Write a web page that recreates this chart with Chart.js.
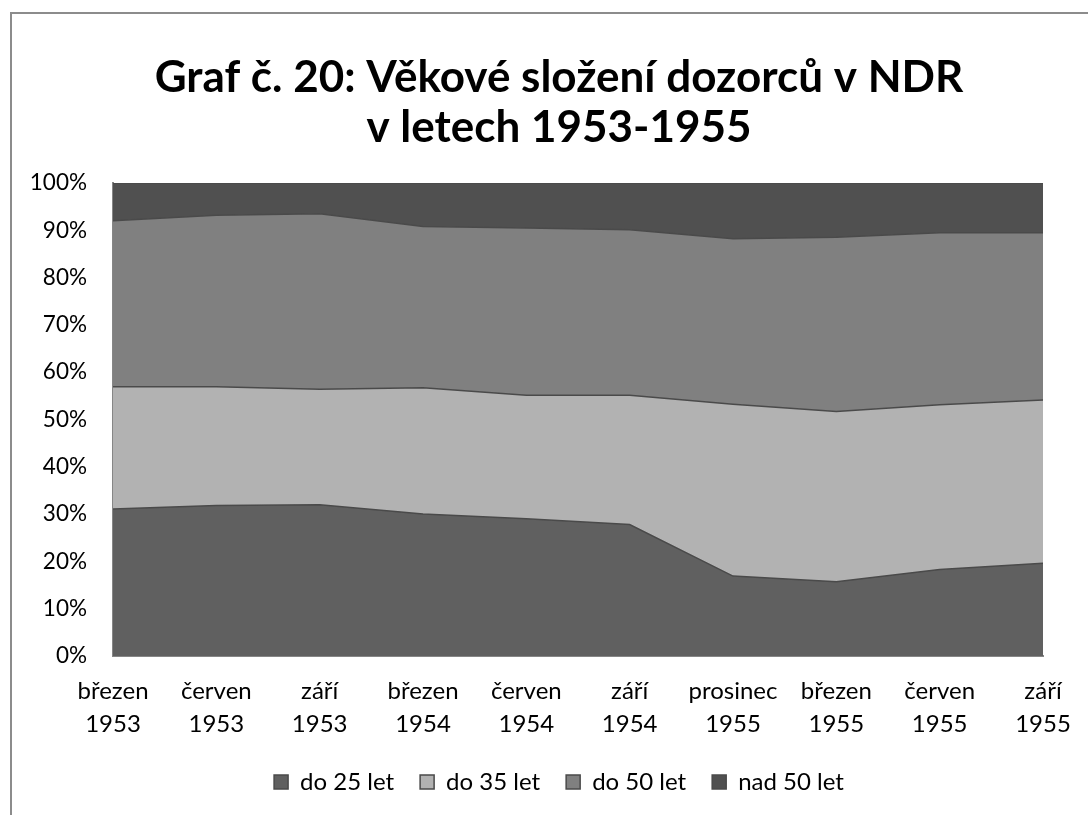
<!DOCTYPE html>
<html>
<head>
<meta charset="utf-8">
<script src="https://cdn.jsdelivr.net/npm/chart.js@4"></script>
<style>
  html, body { margin: 0; padding: 0; background: #fff; }
  #wrap { position: relative; width: 1088px; height: 815px; overflow: hidden; }
  #frame { position: absolute; left: 10px; top: 12px; width: 2000px; height: 2000px;
           border-left: 2px solid #8c8c8c; border-top: 2px solid #8c8c8c; box-sizing: border-box; }
  canvas { position: absolute; left: 0; top: 0; }
</style>
</head>
<body>
<div id="wrap">
  <div id="frame"></div>
  <canvas id="c" width="1088" height="815"></canvas>
</div>
<script>
const categories = [
  ["březen", "1953"], ["červen", "1953"], ["září", "1953"],
  ["březen", "1954"], ["červen", "1954"], ["září", "1954"],
  ["prosinec", "1955"], ["březen", "1955"], ["červen", "1955"], ["září", "1955"]
];
const seriesNames = ["do 25 let", "do 35 let", "do 50 let", "nad 50 let"];
const do25 = [31.1, 31.8, 32.0, 30.0, 29.0, 27.8, 16.9, 15.7, 18.3, 19.6];
const do35 = [25.8, 25.1, 24.4, 26.7, 26.1, 27.3, 36.3, 36.0, 34.8, 34.5];
const do50 = [35.1, 36.3, 37.1, 34.1, 35.4, 35.0, 35.0, 36.8, 36.4, 35.4];
const nad50 = [8.0, 6.8, 6.5, 9.2, 9.5, 9.9, 11.8, 11.5, 10.5, 10.5];
const yTicks = [0, 10, 20, 30, 40, 50, 60, 70, 80, 90, 100];
const titleLines = ["Graf č. 20: Věkové složení dozorců v NDR", "v letech 1953-1955"];

const fills = ["#606060", "#b2b2b2", "#808080", "#505050"];
const lines = ["#4a4a4a", "#4a4a4a", "#4a4a4a", "#4a4a4a"];
const values = [do25, do35, do50, nad50];

const FONT = "Lato, 'Open Sans', sans-serif";

new Chart(document.getElementById('c'), {
  type: 'line',
  data: {
    labels: categories,
    datasets: values.map((v, i) => ({
      label: seriesNames[i],
      data: v,
      backgroundColor: fills[i],
      borderColor: lines[i],
      borderWidth: 1.5,
      fill: i === 0 ? 'origin' : '-1',
      pointRadius: 0,
      tension: 0
    }))
  },
  options: {
    responsive: false,
    animation: false,
    layout: { padding: { left: 30, right: 0, top: 0, bottom: 11 } },
    scales: {
      x: {
        type: 'category',
        offset: false,
        grid: { display: false, drawTicks: false },
        border: { display: true, color: '#868686', width: 2 },
        ticks: {
          color: '#000', font: { family: FONT, size: 24, lineHeight: 1.4 },
          padding: 18, maxRotation: 0, autoSkip: false
        },
        afterFit: s => { s.height = 88; s.paddingRight = 45; s.paddingLeft = 0; }
      },
      y: {
        stacked: true,
        min: 0, max: 100,
        afterBuildTicks: s => { s.ticks = yTicks.map(v => ({ value: v })); },
        grid: { display: false, drawTicks: false },
        border: { display: true, color: '#868686', width: 2 },
        ticks: {
          color: '#000', font: { family: FONT, size: 22.5 }, padding: 26,
          callback: v => v + '%'
        },
        afterFit: s => { s.width = 83; }
      }
    },
    plugins: {
      title: {
        display: true,
        text: titleLines,
        color: '#000',
        font: { family: FONT, size: 44, weight: 'bold', lineHeight: 1.136 },
        padding: { top: 53, bottom: 30 }
      },
      legend: {
        position: 'bottom',
        labels: {
          color: '#000',
          font: { family: FONT, size: 24 },
          boxWidth: 14, boxHeight: 14,
          padding: 26
        }
      },
      tooltip: { enabled: false }
    }
  }
});
</script>
</body>
</html>
